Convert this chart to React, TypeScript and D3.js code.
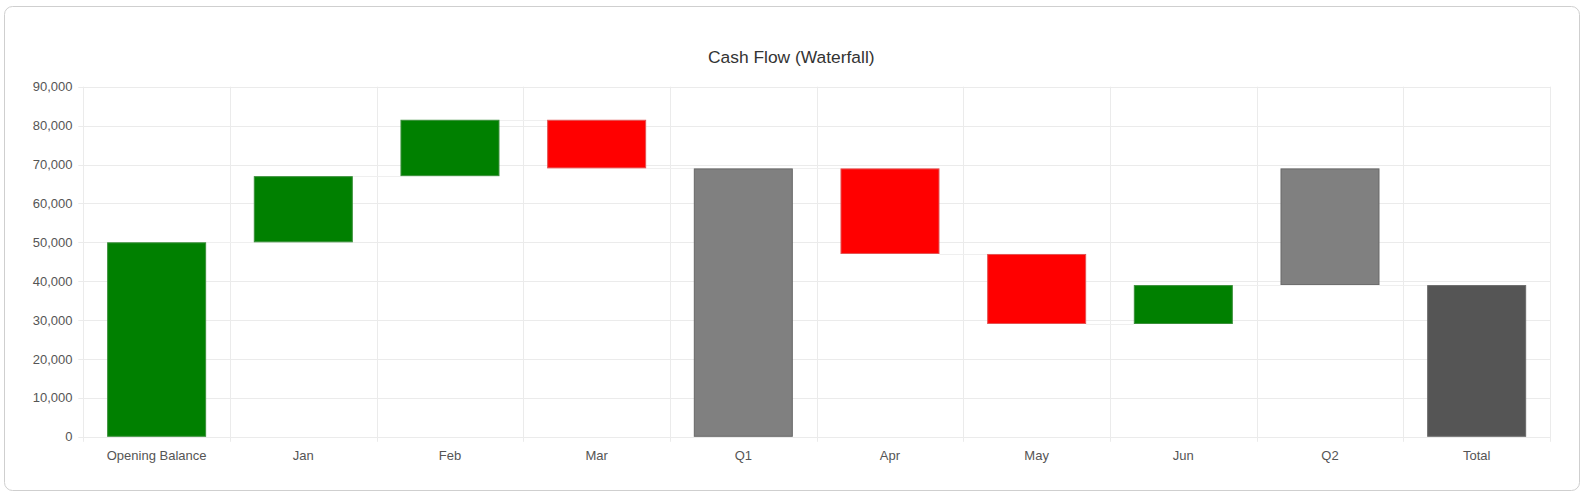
import React from "react";
import * as d3 from "d3";

const categories = ["Opening Balance", "Jan", "Feb", "Mar", "Q1", "Apr", "May", "Jun", "Q2", "Total"];
const barStart = [0, 50000, 67000, 81500, 0, 69000, 47000, 29000, 69000, 0];
const barEnd = [50000, 67000, 81500, 69000, 69000, 47000, 29000, 39000, 39000, 39000];
const barKind = ["up", "up", "up", "down", "subtotal", "down", "down", "up", "subtotal", "total"];
const yTicks = [0, 10000, 20000, 30000, 40000, 50000, 60000, 70000, 80000, 90000];
const title = "Cash Flow (Waterfall)";

const W = 1590;
const H = 499;
const FONT = '"Liberation Sans", Arial, Helvetica, sans-serif';

const fillFor: Record<string, string> = {
  up: "#008000",
  down: "#ff0000",
  subtotal: "#808080",
  total: "#555555",
};
const strokeFor: Record<string, string> = {
  up: "#3a8f3a",
  down: "#e35454",
  subtotal: "#686868",
  total: "#6a6a6a",
};

export default function App() {
  const left = 83.3;
  const right = 1550;
  const top = 86.7;
  const bottom = 436.8;

  const x = d3
    .scaleBand<string>()
    .domain(categories)
    .range([left, right])
    .paddingInner(0.325)
    .paddingOuter(0.1625);
  const step = (right - left) / categories.length;
  const y = d3.scaleLinear().domain([0, 90000]).range([bottom, top]);
  const fmt = d3.format(",");

  const boundaries = d3.range(categories.length + 1).map((i) => left + i * step);

  return (
    <svg
      width={W}
      height={H}
      style={{ position: "absolute", left: 0, top: 0, background: "#fff" }}
    >
      <rect x={4.5} y={6.5} width={1575} height={484} rx={8} ry={8} fill="#fff" stroke="#cfcfcf" strokeWidth={1} />
      <text
        x={791.3}
        y={63}
        textAnchor="middle"
        fontFamily={FONT}
        fontSize={17.4}
        fill="#333"
      >
        {title}
      </text>

      {/* horizontal gridlines */}
      {yTicks.map((t) => (
        <line
          key={"h" + t}
          x1={left - 5}
          x2={right}
          y1={Math.round(y(t)) + 0.5}
          y2={Math.round(y(t)) + 0.5}
          stroke="#ebebeb"
          strokeWidth={1}
        />
      ))}
      {/* vertical gridlines */}
      {boundaries.map((bx, i) => (
        <line
          key={"v" + i}
          x1={Math.round(bx) + 0.5}
          x2={Math.round(bx) + 0.5}
          y1={top}
          y2={bottom + 5}
          stroke="#ebebeb"
          strokeWidth={1}
        />
      ))}

      {/* y labels */}
      {yTicks.map((t) => (
        <text
          key={"yl" + t}
          x={72.5}
          y={y(t) + 4.5}
          textAnchor="end"
          fontFamily={FONT}
          fontSize={13}
          fill="#555"
        >
          {fmt(t)}
        </text>
      ))}

      {/* connectors */}
      {categories.slice(0, -1).map((c, i) => {
        const level = barEnd[i];
        const x1 = (x(c) as number) + x.bandwidth();
        const x2 = x(categories[i + 1]) as number;
        return (
          <line
            key={"c" + i}
            x1={x1}
            x2={x2}
            y1={Math.round(y(level)) + 0.5}
            y2={Math.round(y(level)) + 0.5}
            stroke="#efefef"
            strokeWidth={1}
          />
        );
      })}

      {/* bars */}
      {categories.map((c, i) => {
        const y0 = y(Math.max(barStart[i], barEnd[i]));
        const y1 = y(Math.min(barStart[i], barEnd[i]));
        const k = barKind[i];
        return (
          <rect
            key={"b" + c}
            x={(x(c) as number) + 0.5}
            y={y0 + 0.5}
            width={x.bandwidth() - 1}
            height={y1 - y0 - 1}
            fill={fillFor[k]}
            stroke={strokeFor[k]}
            strokeWidth={1}
          />
        );
      })}

      {/* x labels */}
      {categories.map((c) => (
        <text
          key={"xl" + c}
          x={(x(c) as number) + x.bandwidth() / 2}
          y={460}
          textAnchor="middle"
          fontFamily={FONT}
          fontSize={13}
          fill="#555"
        >
          {c}
        </text>
      ))}
    </svg>
  );
}
